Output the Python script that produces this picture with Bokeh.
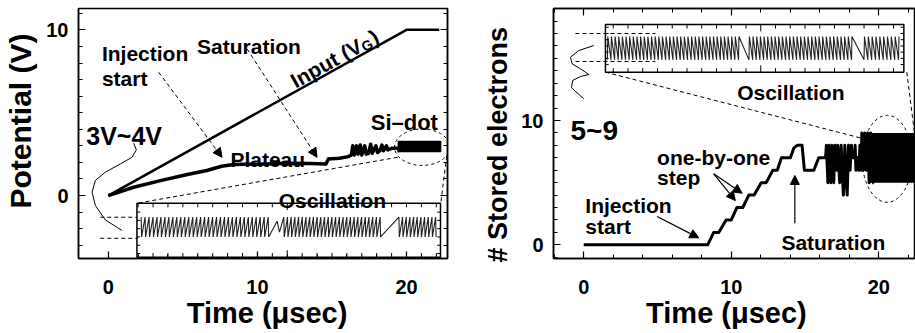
import math
from bokeh.plotting import figure
from bokeh.models import Range1d, LinearAxis, Label, Arrow, NormalHead, FixedTicker
from bokeh.layouts import row
from bokeh.embed import file_html
from bokeh.resources import INLINE

FONT = "Liberation Sans"
NB = "\u00a0"

# ---------------- left panel: potential (V) ----------------
input_t = [0.0, 20.0, 22.2]
input_v = [0.0, 10.0, 10.0]

dot_t = [0.0, 1.7, 3.5, 5.3, 6.6, 7.6, 8.4, 10.6, 12.0, 13.5, 14.6, 14.75, 15.5, 16.1,
         16.3, 16.4, 16.5, 16.65, 16.75, 16.9, 17.0, 17.2, 17.3, 17.45, 17.6, 17.7,
         17.95, 18.05, 18.2, 18.35, 18.45, 18.65, 18.75, 19.0, 19.45]
dot_v = [0.0, 0.5, 0.9, 1.27, 1.51, 1.77, 1.87, 1.91, 1.95, 1.93, 1.9, 2.2, 2.25, 2.35,
         2.45, 3.0, 2.45, 3.0, 2.5, 3.05, 2.45, 3.0, 2.5, 2.55, 3.1, 2.55,
         3.0, 2.6, 2.7, 3.05, 2.7, 3.0, 2.75, 2.85, 2.85]
# dense oscillation at the end (start, end, low, high, cycles)
dot_block = [19.5, 22.3, 2.62, 3.3, 40]

# left inset (oscillation, zoomed): bursts
li_start = [2.2, 11.77, 19.49]
li_end = [10.99, 18.48, 22.2]
li_cycles = [33, 27, 11]
li_hi, li_lo = -1.3, -2.5
li_bridge_t = [11.32, 11.48]
li_bridge_v = [-1.55, -2.21]

# ---------------- right panel: stored electrons ----------------
n_t = [0.0, 8.4, 8.81, 9.15, 9.65, 10.0, 10.38, 10.78, 11.19, 11.55, 12.03, 12.37,
       12.82, 13.12, 13.4, 14.01, 14.25, 14.47, 14.8, 14.96, 15.6, 15.93, 16.39,
       16.45, 16.55, 16.62, 16.75, 16.82, 16.95, 17.02, 17.15, 17.22, 17.35, 17.45,
       17.6, 17.7, 17.8, 17.86, 17.95, 18.05, 18.15, 18.2, 18.35, 18.4, 18.45, 18.55,
       18.65, 18.72, 18.8, 18.85, 18.95, 19.05, 19.15, 19.25, 19.35, 19.45, 19.55]
n_v = [0, 0, 1, 1, 2, 2, 3, 3, 4, 4, 5, 5,
       6, 6, 7, 7, 7.8, 8, 8, 6, 6, 7, 7,
       8, 5, 8, 5, 8, 5, 8, 6, 8, 5, 8,
       4, 8, 5, 4, 8, 6, 8, 7, 7, 8, 6, 7,
       6, 8, 6, 9, 6, 9, 6, 9, 5, 9, 5]
n_block = [19.62, 22.35, 5, 9, 45]

ri_start = [1.6, 11.2, 19.0]
ri_end = [10.74, 18.4, 21.6]
ri_cycles = [37, 29, 10]
ri_hi, ri_lo = 16.76, 14.88

x_ticks = [0, 10, 20]
y_ticks = [0, 10]
x_title = "Time (\u03bcsec)"
y_title_left = "Potential (V)"
y_title_right = "# Stored electrons"


def teeth(start, end, cycles, first, second):
    ts, vs = [], []
    p = (end - start) / cycles
    for i in range(cycles):
        t0 = start + i * p
        ts += [t0, t0 + 0.12 * p]
        vs += [first, second]
    return ts, vs


def style_axes(p, xminor, yminor, right_axis=False, top_axis=False):
    p.below[0].ticker = FixedTicker(ticks=x_ticks, minor_ticks=xminor)
    p.left[0].ticker = FixedTicker(ticks=y_ticks, minor_ticks=yminor)
    extra = []
    if right_axis:
        ax = LinearAxis(ticker=FixedTicker(ticks=y_ticks, minor_ticks=yminor))
        p.add_layout(ax, "right")
        extra.append(ax)
    if top_axis:
        ax = LinearAxis(ticker=FixedTicker(ticks=x_ticks, minor_ticks=xminor))
        p.add_layout(ax, "above")
        extra.append(ax)
    for ax in list(p.axis):
        ax.major_tick_in = 7
        ax.major_tick_out = 0
        ax.minor_tick_in = 4
        ax.minor_tick_out = 0
        ax.axis_line_color = "black"
        ax.axis_line_width = 1.5
        ax.major_tick_line_width = 1.2
        ax.minor_tick_line_width = 1.0
        ax.major_label_text_font = FONT
        ax.major_label_text_font_style = "bold"
        ax.major_label_text_font_size = "20px"
        ax.major_label_text_color = "black"
        ax.axis_label_text_font = FONT
        ax.axis_label_text_font_style = "bold"
        ax.axis_label_text_color = "black"
    for ax in extra:
        ax.major_label_text_font_size = "0px"
        ax.major_label_standoff = 0
        ax.major_label_text_color = None
    p.grid.visible = False
    p.outline_line_color = "black"
    p.outline_line_width = 1.5


def lbl(p, x, y, text, size="21px", align="left", **kw):
    p.add_layout(Label(x=x, y=y, text=text, text_font=FONT, text_font_style="bold",
                       text_font_size=size, text_color="black",
                       text_baseline="alphabetic", text_align=align, **kw))


TOP, BOTTOM = 8, 75

# =============== LEFT FIGURE ===============
p1 = figure(width=460, height=333, output_backend="svg", toolbar_location=None,
            x_range=Range1d(-2.0, 22.75), y_range=Range1d(-3.80, 11.29),
            min_border_left=78, min_border_right=13, min_border_top=TOP, min_border_bottom=BOTTOM,
            background_fill_color="white", border_fill_color="white")
style_axes(p1, [2, 4, 6, 8, 12, 14, 16, 18, 22], list(range(-3, 12)), right_axis=True)
xb = p1.below[0]
xb.axis_label = NB + x_title
xb.axis_label_text_font_size = "29px"
xb.major_label_standoff = 21
xb.axis_label_standoff = 0
yl = p1.left[0]
yl.axis_label = NB * 3 + y_title_left
yl.axis_label_text_font_size = "30px"
yl.major_label_standoff = 10
yl.axis_label_standoff = 6

p1.line(input_t, input_v, line_color="black", line_width=2.5)
p1.line(dot_t, dot_v, line_color="black", line_width=3.5, line_join="round")
bt, bv = teeth(dot_block[0], dot_block[1], dot_block[4], dot_block[2], dot_block[3])
p1.line([dot_t[-1]] + bt, [dot_v[-1]] + bv, line_color="black", line_width=3)

# inset
L1, R1, T1, B1 = 1.92, 22.28, -0.46, -3.72
p1.quad(left=[L1], right=[R1], top=[T1], bottom=[B1], fill_color="white",
        line_color="black", line_width=1.5)
ts, vs = [], []
for i in range(3):
    a, b = teeth(li_start[i], li_end[i], li_cycles[i], li_hi, li_lo)
    ts += a
    vs += b
    if i == 0:
        ts += li_bridge_t
        vs += li_bridge_v
p1.line(ts, vs, line_color="#222222", line_width=1.1)
tick_x = [t for t in range(2, 23) if L1 + 0.05 < t < R1 - 0.05]
tl = [0.42 if t == 12 else 0.25 for t in tick_x]
p1.segment(x0=tick_x, y0=[T1] * len(tick_x), x1=tick_x, y1=[T1 - l for l in tl],
           line_color="black", line_width=1)
p1.segment(x0=tick_x, y0=[B1] * len(tick_x), x1=tick_x, y1=[B1 + l for l in tl],
           line_color="black", line_width=1)
tick_y = [-1.0, -1.5, -2.0, -2.5, -3.0, -3.5]
p1.segment(x0=[L1] * 6, y0=tick_y, x1=[L1 + 0.22] * 6, y1=tick_y, line_color="black", line_width=1)
p1.segment(x0=[R1] * 6, y0=tick_y, x1=[R1 - 0.22] * 6, y1=tick_y, line_color="black", line_width=1)

# dashed guides
dash = "4 3"
p1.line([-0.54, 1.95], [-1.31, -1.31], line_color="black", line_width=1, line_dash=dash)
p1.line([-0.54, 1.95], [-2.58, -2.58], line_color="black", line_width=1, line_dash=dash)
p1.ellipse(x=[21.05], y=[2.92], width=[3.7], height=[2.2], fill_color=None,
           line_color="black", line_width=1, line_dash="3 3")
p1.line([19.4, 1.95], [2.31, -0.46], line_color="black", line_width=1, line_dash=dash)
p1.line([22.7, 22.3], [2.4, -0.46], line_color="black", line_width=1, line_dash=dash)
p1.line([1.70, 1.88, 1.59, 0.81, -0.2, -0.87, -1.09, -0.87, -0.2, 0.92],
        [3.16, 2.76, 2.31, 1.91, 1.41, 0.91, 0.2, -0.6, -1.47, -2.11],
        line_color="black", line_width=1)
head = dict(size=9, fill_color="black", line_color="black", line_width=1)
p1.add_layout(Arrow(end=NormalHead(**head), x_start=3.38, y_start=7.44, x_end=7.63, y_end=2.31,
                    line_color="black", line_width=1, line_dash=dash))
p1.add_layout(Arrow(end=NormalHead(**head), x_start=9.31, y_start=8.85, x_end=14.0, y_end=2.31,
                    line_color="black", line_width=1, line_dash=dash))

lbl(p1, -0.43, 8.59, "Injection")
lbl(p1, -0.43, 7.04, "start")
lbl(p1, 5.95, 8.99, "Saturation")
lbl(p1, 8.19, 2.15, "Plateau")
lbl(p1, 17.6, 4.42, "Si\u2013dot", size="22px")
lbl(p1, -1.48, 3.62, "3V~4V", size="25px")
lbl(p1, 11.43, -0.3, "Oscillation")
th = math.atan2(10 * 16.56, 20 * 14.91)
c, s = math.cos(th), math.sin(th)
w1 = 3.722 * 21
wg = 0.778 * 14
d = 4
lbl(p1, 12.33, 6.84, "Input (V", angle=th)
lbl(p1, 12.33, 6.84, "G", size="14px", angle=th,
    x_offset=w1 * c + d * s, y_offset=w1 * s - d * c)
lbl(p1, 12.33, 6.84, ")", angle=th,
    x_offset=(w1 + wg + 1) * c, y_offset=(w1 + wg + 1) * s)

# =============== RIGHT FIGURE ===============
p2 = figure(width=455, height=333, output_backend="svg", toolbar_location=None,
            x_range=Range1d(-2.05, 22.49), y_range=Range1d(-1.10, 19.01),
            min_border_left=93, min_border_right=0, min_border_top=TOP, min_border_bottom=BOTTOM,
            background_fill_color="white", border_fill_color="white")
style_axes(p2, [-2, 2, 4, 6, 8, 12, 14, 16, 18, 22], list(range(-1, 20)), top_axis=True)
xb2 = p2.below[0]
xb2.axis_label = x_title + NB * 2
xb2.axis_label_text_font_size = "29px"
xb2.major_label_standoff = 21
xb2.axis_label_standoff = 0
yl2 = p2.left[0]
yl2.axis_label = y_title_right + NB * 3
yl2.axis_label_text_font_size = "27px"
yl2.major_label_standoff = 10
yl2.axis_label_standoff = 5

p2.line(n_t, n_v, line_color="black", line_width=3, line_join="round")
bt, bv = teeth(n_block[0], n_block[1], n_block[4], n_block[2], n_block[3])
p2.line([n_t[-1]] + bt, [n_v[-1]] + bv, line_color="black", line_width=3)

L2, R2, T2, B2 = 1.47, 21.7, 17.72, 13.89
p2.quad(left=[L2], right=[R2], top=[T2], bottom=[B2], fill_color="white",
        line_color="black", line_width=1.5)
ts, vs = [], []
for i in range(3):
    a, b = teeth(ri_start[i], ri_end[i], ri_cycles[i], ri_lo, ri_hi)
    ts += a
    vs += b
p2.line(ts, vs, line_color="#222222", line_width=1.1)
tick_x = [t for t in range(2, 22) if L2 + 0.05 < t < R2 - 0.05]
tl = [0.55 if t == 12 else 0.32 for t in tick_x]
p2.segment(x0=tick_x, y0=[T2] * len(tick_x), x1=tick_x, y1=[T2 - l for l in tl],
           line_color="black", line_width=1)
p2.segment(x0=tick_x, y0=[B2] * len(tick_x), x1=tick_x, y1=[B2 + l for l in tl],
           line_color="black", line_width=1)
tick_y = [14.5, 15.0, 15.5, 16.0, 16.5, 17.0, 17.5]
p2.segment(x0=[L2] * 7, y0=tick_y, x1=[L2 + 0.22] * 7, y1=tick_y, line_color="black", line_width=1)
p2.segment(x0=[R2] * 7, y0=tick_y, x1=[R2 - 0.22] * 7, y1=tick_y, line_color="black", line_width=1)

p2.line([-0.56, 4.86], [17.0, 17.0], line_color="black", line_width=1, line_dash=dash)
p2.line([-0.56, 4.86], [14.75, 14.75], line_color="black", line_width=1, line_dash=dash)
p2.ellipse(x=[20.57], y=[6.92], width=[3.39], height=[7.0], fill_color=None,
           line_color="black", line_width=1, line_dash="3 3")
p2.line([1.47, 18.98], [13.89, 8.53], line_color="black", line_width=1, line_dash=dash)
p2.line([21.9, 22.4], [13.89, 9.2], line_color="black", line_width=1, line_dash=dash)
p2.line([0.68, -0.34, -0.90, -0.79, -0.22, 0.34, -0.22, -0.75, -0.83, 0.0],
        [16.03, 15.63, 15.09, 14.56, 14.16, 13.70, 13.54, 13.22, 12.63, 11.75],
        line_color="black", line_width=1)
for xs, ys, xe, ye in [(4.97, 2.28, 7.8, 0.56), (8.81, 5.71, 10.74, 4.15),
                       (8.81, 5.71, 10.28, 3.56), (14.31, 1.74, 14.31, 5.58)]:
    p2.add_layout(Arrow(end=NormalHead(**head), x_start=xs, y_start=ys, x_end=xe, y_end=ye,
                        line_color="black", line_width=1.2))

lbl(p2, -0.9, 9.2, "5~9", size="28px")
lbl(p2, 10.4, 12.28, "Oscillation")
lbl(p2, 4.97, 7.05, "one-by-one")
lbl(p2, 4.97, 5.44, "step")
lbl(p2, 0.11, 3.16, "Injection")
lbl(p2, 0.11, 1.47, "start")
lbl(p2, 13.4, 0.21, "Saturation")

layout = row(p1, p2)
open("out.html", "w").write(file_html(layout, INLINE))
